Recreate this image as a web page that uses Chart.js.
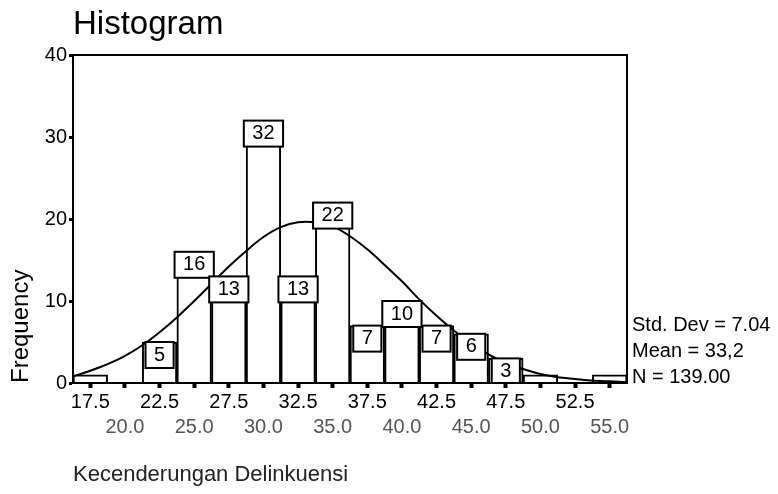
<!DOCTYPE html>
<html>
<head>
<meta charset="utf-8">
<script src="https://cdn.jsdelivr.net/npm/chart.js@4.4.1/dist/chart.umd.min.js"></script>
<style>
  body { margin: 0; background: #fff; }
  #wrap { width: 778px; height: 494px; }
</style>
</head>
<body>
<div id="wrap"><canvas id="hist" width="778" height="494"></canvas></div>
<script>
// bins (class midpoints) and counts
const binCenters = [17.5, 20.0, 22.5, 25.0, 27.5, 30.0, 32.5, 35.0, 37.5, 40.0, 42.5, 45.0, 47.5, 50.0, 52.5, 55.0];
const frequencies = [1, 0, 5, 16, 13, 32, 13, 22, 7, 10, 7, 6, 3, 1, 0, 1];
const xTickLabels = ['17.5', '20.0', '22.5', '25.0', '27.5', '30.0', '32.5', '35.0', '37.5', '40.0', '42.5', '45.0', '47.5', '50.0', '52.5', '55.0'];
const yTicks = [0, 10, 20, 30, 40];

// normal curve
const curveX = [16.25, 17.5, 18.75, 20, 21.25, 22.5, 23.75, 25, 26.25, 27.5, 28.75, 30, 31.25, 32.5, 33.75, 35,
                36.25, 37.5, 38.75, 40, 41.25, 42.5, 43.75, 45, 46.25, 47.5, 48.75, 50, 51.25, 52.5, 53.75, 55, 56.25];
const curveY = [0.8, 1.5, 2.3, 3.3, 4.6, 6.2, 8.0, 10.0, 12.1, 14.2, 16.1, 17.8, 19.0, 19.6, 19.6, 19.1,
                17.9, 16.3, 14.4, 12.4, 10.2, 8.2, 6.4, 4.8, 3.5, 2.5, 1.7, 1.1, 0.7, 0.5, 0.3, 0.2, 0.1];

const statsLines = ['Std. Dev = 7.04', 'Mean = 33,2', 'N = 139.00'];

const FONT = "'Liberation Sans', Arial, sans-serif";

const framePlugin = {
  id: 'frame',
  afterDatasetsDraw(chart) {
    const {ctx, chartArea: a, scales} = chart;
    const base = scales.y.getPixelForValue(0);
    ctx.save();
    // value boxes on top of bars
    ctx.font = '20px ' + FONT;
    ctx.textAlign = 'center';
    ctx.textBaseline = 'middle';
    ctx.lineWidth = 2;
    ctx.strokeStyle = '#000';
    frequencies.forEach((v, i) => {
      if (v < 2) return;
      const txt = String(v);
      const cx = scales.x.getPixelForValue(binCenters[i]);
      const w = ctx.measureText(txt).width + 17;
      const top = scales.y.getPixelForValue(v);
      const h = Math.min(26, base - top);
      ctx.fillStyle = '#fff';
      ctx.fillRect(cx - w / 2, top, w, h);
      ctx.strokeRect(cx - w / 2, top, w, h);
      ctx.fillStyle = '#000';
      ctx.fillText(txt, cx, top + 13);
    });
    // box round the plot
    ctx.strokeRect(a.left, a.top, a.right - a.left, a.bottom - a.top);
    // stats at the right
    ctx.textAlign = 'left';
    statsLines.forEach((s, i) => ctx.fillText(s, a.right + 5, 325 + i * 26));
    ctx.restore();
  }
};

new Chart(document.getElementById('hist'), {
  type: 'bar',
  data: {
    datasets: [
      {
        type: 'line',
        data: curveX.map((x, i) => ({x: x, y: curveY[i]})),
        borderColor: '#000',
        borderWidth: 2,
        pointRadius: 0,
        tension: 0.3,
        order: 0
      },
      {
        data: binCenters.map((x, i) => ({x: x, y: frequencies[i]})),
        backgroundColor: '#fff',
        borderColor: '#000',
        borderWidth: 2,
        barPercentage: 1,
        categoryPercentage: 1,
        order: 1
      }
    ]
  },
  options: {
    responsive: false,
    animation: false,
    layout: {padding: {left: 0, right: 151, top: 0, bottom: 0}},
    plugins: {
      legend: {display: false},
      tooltip: {enabled: false},
      title: {
        display: true,
        text: 'Histogram',
        align: 'start',
        fullSize: false,
        color: '#000',
        font: {family: FONT, size: 33, weight: 'normal'},
        padding: {top: 5, bottom: 10.4}
      }
    },
    scales: {
      x: {
        type: 'linear',
        min: 16.25,
        max: 56.25,
        offset: false,
        afterBuildTicks(scale) { scale.ticks = binCenters.map(v => ({value: v})); },
        afterFit(scale) { scale.height = 111; },
        grid: {display: true, offset: false, drawOnChartArea: false, drawTicks: true, tickLength: 5, tickWidth: 4, color: '#000'},
        border: {display: true, color: '#000', width: 2},
        ticks: {
          autoSkip: false,
          maxRotation: 0,
          padding: 2,
          font: {family: FONT, size: 20, lineHeight: 1.25},
          color: ctx => (ctx.index % 2 ? '#555' : '#000'),
          callback: (value, index) => (index % 2 ? ['', xTickLabels[index]] : xTickLabels[index])
        },
        title: {
          display: true,
          text: 'Kecenderungan Delinkuensi',
          align: 'start',
          color: '#222',
          font: {family: FONT, size: 22},
          padding: {top: 0, bottom: 6}
        }
      },
      y: {
        min: 0,
        max: 40,
        afterBuildTicks(scale) { scale.ticks = yTicks.map(v => ({value: v})); },
        afterFit(scale) { scale.width = 73; },
        grid: {display: true, drawOnChartArea: false, drawTicks: true, tickLength: 4, tickWidth: 3, color: '#000'},
        border: {display: true, color: '#000', width: 2},
        ticks: {
          padding: 2,
          color: '#000',
          font: {family: FONT, size: 20}
        },
        title: {
          display: true,
          text: 'Frequency',
          align: 'start',
          color: '#000',
          font: {family: FONT, size: 24},
          padding: {top: 7, bottom: 0}
        }
      }
    }
  },
  plugins: [framePlugin]
});
</script>
</body>
</html>
